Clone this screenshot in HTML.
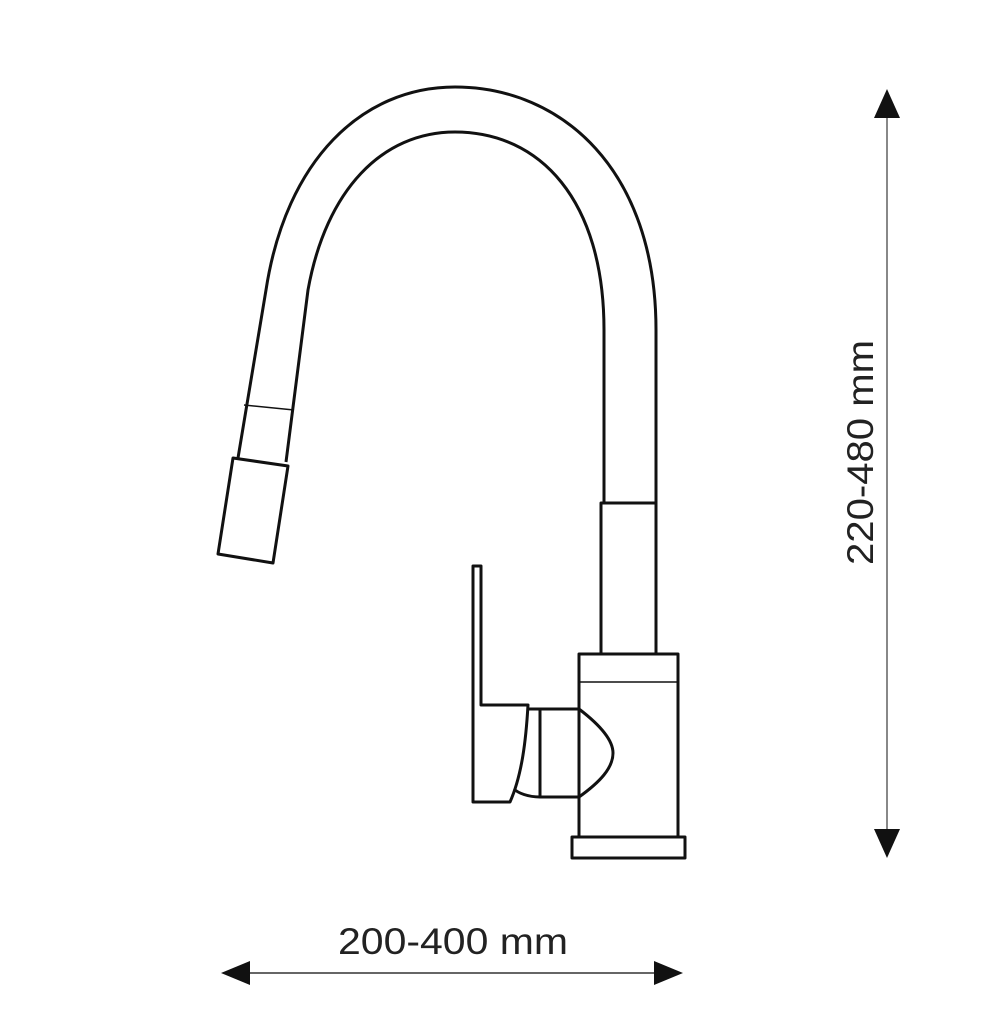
<!DOCTYPE html>
<html><head><meta charset="utf-8"><style>
html,body{margin:0;padding:0;background:#fff;}
svg{display:block;}
</style></head><body>
<svg width="995" height="1024" viewBox="0 0 995 1024" xmlns="http://www.w3.org/2000/svg">
<rect width="995" height="1024" fill="#fff"/>
<g fill="none" stroke="#111" stroke-width="3" stroke-linejoin="round">
<!-- spout -->
<path d="M238 458 L266 290 C286 160 362 87 455 87 C562 87 656 170 656 330 L656 503"/>
<path d="M286 462 L308 290 C326 190 382 132 455 132 C540 132 604 200 604 330 L604 503"/>
<path d="M244 405 L294 410" stroke-width="1.5"/>
<!-- nozzle -->
<path d="M233 458 L288 466 L273 563 L218 554 Z"/>
<!-- upper tube -->
<rect x="601" y="503" width="55" height="151"/>
<!-- body -->
<rect x="579" y="654" width="99" height="183"/>
<path d="M579 682 L678 682" stroke-width="1.5"/>
<!-- base -->
<rect x="572" y="837" width="113" height="21"/>
<!-- lever -->
<path d="M473 566 L481 566 L481 705 L528 705 C526 740 522 775 510 802 L473 802 Z"/>
<!-- cartridge -->
<path d="M528 709 L579 709 C600 725 613 740 613 753 C613 768 600 782 579 797 L540 797 C528 797 518 793 514 789"/>
<path d="M540 709 L540 797"/>
</g>
<!-- dimension lines -->
<line x1="887" y1="110" x2="887" y2="835" stroke="#888" stroke-width="2"/>
<polygon points="887,89 874,118 900,118" fill="#111"/>
<polygon points="887,858 874,829 900,829" fill="#111"/>
<line x1="245" y1="973" x2="660" y2="973" stroke="#666" stroke-width="2"/>
<polygon points="221,973 250,961 250,985" fill="#111"/>
<polygon points="683,973 654,961 654,985" fill="#111"/>
<text x="338" y="954" font-family="Liberation Sans, sans-serif" font-size="37" fill="#222" textLength="230" lengthAdjust="spacingAndGlyphs">200-400 mm</text>
<text transform="translate(873,565) rotate(-90)" x="0" y="0" font-family="Liberation Sans, sans-serif" font-size="37" fill="#222" textLength="225" lengthAdjust="spacingAndGlyphs">220-480 mm</text>
</svg>
</body></html>
